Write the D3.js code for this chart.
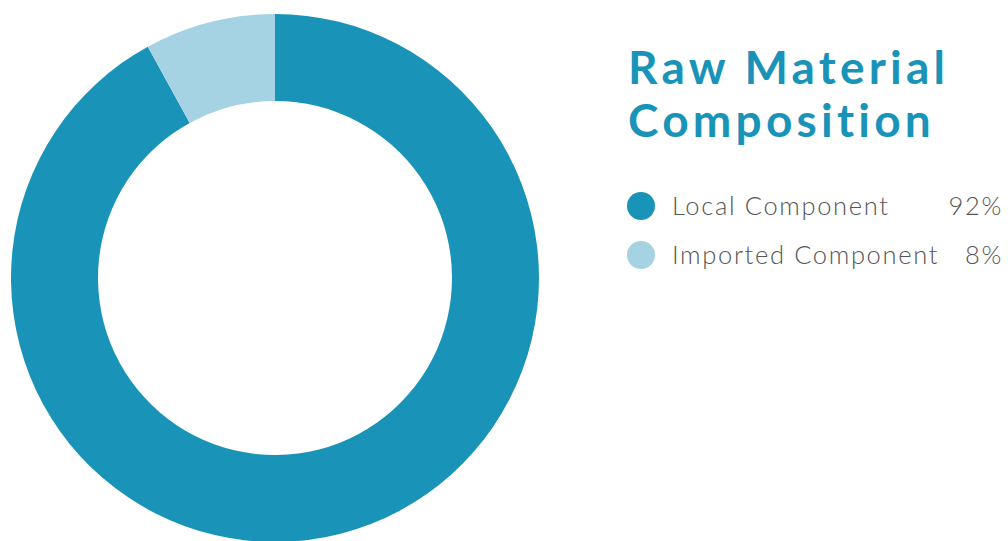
<!DOCTYPE html>
<html>
<head>
<meta charset="utf-8">
<script src="https://cdn.jsdelivr.net/npm/d3@7"></script>
<style>
    html, body { margin: 0; padding: 0; background: #fff; overflow: hidden; }
    svg { display: block; }
</style>
</head>
<body>
<div id="chart"></div>
<script>
// chart data
const categories = ['Local Component', 'Imported Component'];
const values = [92, 8];
const colors = ['#1a93b8', '#a5d3e3'];
const titleLines = ['Raw Material', 'Composition'];

const width = 1008,
    height = 541;

const svg = d3.select('#chart').append('svg')
    .attr('width', width)
    .attr('height', height);

// donut
const cx = 275, cy = 278,
    outerR = 264, innerR = 177;

const pie = d3.pie()
    .sort(null)
    .value(d => d);

const arc = d3.arc()
    .innerRadius(innerR)
    .outerRadius(outerR);

const donut = svg.append('g')
    .attr('transform', 'translate(' + cx + ', ' + cy + ')');

donut.selectAll('path')
    .data(pie(values))
    .enter()
    .append('path')
    .attr('d', arc)
    .attr('fill', (d, i) => colors[i]);

// widen text with letter-spacing so it spans the reference width
function fitSpacing(sel, target) {
    const node = sel.node();
    const w = node.getComputedTextLength();
    const n = node.textContent.length;
    return n > 1 ? Math.max(0, (target - w) / (n - 1)) : 0;
}

// title
const title = svg.append('g')
    .attr('font-family', 'Lato, "Open Sans", sans-serif')
    .attr('font-weight', 700)
    .attr('font-size', 46)
    .attr('fill', '#1a93b8');

title.selectAll('text')
    .data(titleLines)
    .enter()
    .append('text')
    .attr('x', 628)
    .attr('y', (d, i) => 84 + i * 53)
    .text(d => d);

const titleLs = fitSpacing(title.select('text'), 317);
title.selectAll('text').attr('letter-spacing', titleLs);

// legend
const legend = svg.append('g')
    .attr('font-family', 'Lato, "Open Sans", sans-serif')
    .attr('font-weight', 300)
    .attr('font-size', 25.5)
    .attr('fill', '#555');

const rows = legend.selectAll('g')
    .data(categories)
    .enter()
    .append('g')
    .attr('transform', (d, i) => 'translate(0, ' + (206 + i * 49) + ')');

rows.append('circle')
    .attr('cx', 641)
    .attr('cy', 0)
    .attr('r', 14)
    .attr('fill', (d, i) => colors[i]);

const labels = rows.append('text')
    .attr('x', 672)
    .attr('y', 9)
    .text(d => d);

const labelLs = fitSpacing(labels, 216);
labels.attr('letter-spacing', labelLs);

rows.append('text')
    .attr('x', 1003)
    .attr('y', 9)
    .attr('text-anchor', 'end')
    .attr('letter-spacing', labelLs)
    .text((d, i) => values[i] + '%');
</script>
</body>
</html>
